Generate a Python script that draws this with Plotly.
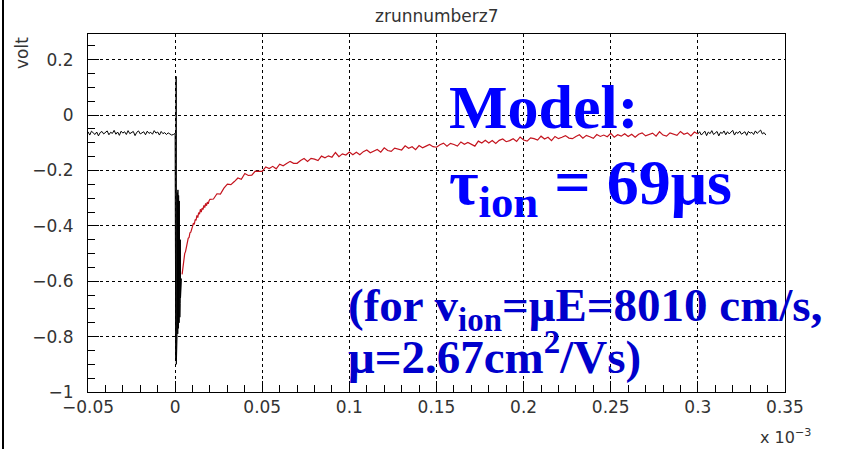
import numpy as np
import plotly.graph_objects as go

# Time axis in units of 1e-3 s, amplitude in volt.

# Baseline before the trigger (sampled every 0.001 from -0.050)
pre_t0, pre_dt = -0.050, 0.001
pre_v = [-0.060, -0.072, -0.058, -0.066, -0.070, -0.061, -0.075, -0.063, -0.059, -0.068,
         -0.064, -0.057, -0.071, -0.062, -0.066, -0.055, -0.069, -0.061, -0.073, -0.058,
         -0.065, -0.060, -0.070, -0.056, -0.067, -0.063, -0.059, -0.074, -0.062, -0.057,
         -0.068, -0.064, -0.060, -0.071, -0.058, -0.066, -0.062, -0.069, -0.056, -0.065,
         -0.061, -0.072, -0.059, -0.067, -0.063, -0.070, -0.064, -0.068, -0.072, -0.070,
         -0.066]

# Fast ringing right after the trigger (sampled every 0.0001 from 0)
ring_t0, ring_dt = 0.0, 0.0001
ring_v = [-0.066, -0.35, -0.60, -0.52, -0.88, -0.40, 0.14, -0.90, -0.30, -0.78,
          -0.26, -0.80, -0.28, -0.76, -0.30, -0.79, -0.27, -0.74, -0.32, -0.77,
          -0.29, -0.72, -0.34, -0.75, -0.31, -0.70, -0.36, -0.73, -0.40, -0.68,
          -0.45, -0.66, -0.52, -0.63, -0.56, -0.61, -0.59]

# Ion tail, early part (every 0.0005 from 0.004)
early_t0, early_dt = 0.004, 0.0005
early_v = [-0.575, -0.540, -0.525, -0.500, -0.492, -0.470, -0.465, -0.445, -0.442, -0.425,
           -0.423, -0.405, -0.402, -0.390, -0.395, -0.377, -0.380, -0.362, -0.370, -0.352,
           -0.358, -0.340, -0.350, -0.336, -0.341, -0.326, -0.334, -0.319, -0.327, -0.314,
           -0.320, -0.309]

# Ion tail, late part (every 0.002 from 0.020)
late_t0, late_dt = 0.020, 0.002
late_v = [-0.304, -0.303, -0.284, -0.285, -0.264, -0.249, -0.251, -0.240, -0.227, -0.232,
          -0.211, -0.218, -0.217, -0.202, -0.202, -0.203, -0.187, -0.193, -0.185, -0.194,
          -0.177, -0.183, -0.175, -0.167, -0.174, -0.174, -0.164, -0.157, -0.167, -0.156,
          -0.159, -0.164, -0.148, -0.154, -0.147, -0.152, -0.135, -0.150, -0.140, -0.144,
          -0.133, -0.143, -0.134, -0.143, -0.132, -0.126, -0.136, -0.131, -0.124, -0.134,
          -0.118, -0.128, -0.131, -0.119, -0.122, -0.126, -0.111, -0.120, -0.114, -0.125,
          -0.110, -0.118, -0.112, -0.106, -0.114, -0.116, -0.107, -0.101, -0.112, -0.102,
          -0.106, -0.112, -0.097, -0.105, -0.099, -0.105, -0.112, -0.094, -0.101, -0.091,
          -0.101, -0.092, -0.102, -0.091, -0.086, -0.096, -0.092, -0.085, -0.095, -0.079,
          -0.090, -0.094, -0.082, -0.085, -0.090, -0.076, -0.086, -0.080, -0.092, -0.077,
          -0.085, -0.080, -0.074, -0.083, -0.085, -0.077, -0.071, -0.083, -0.073, -0.078,
          -0.084, -0.070, -0.077, -0.072, -0.078, -0.066, -0.080, -0.071, -0.076, -0.067,
          -0.077, -0.069, -0.080, -0.069, -0.064, -0.075, -0.071, -0.065, -0.076, -0.060,
          -0.072, -0.076, -0.064, -0.068, -0.073, -0.059, -0.069, -0.064, -0.075, -0.061,
          -0.068]

# Baseline after the tail (every 0.001 from 0.300)
tail_t0, tail_dt = 0.300, 0.001
tail_v = [-0.068, -0.060, -0.072, -0.063, -0.058, -0.074, -0.061, -0.067, -0.056, -0.070,
          -0.064, -0.059, -0.075, -0.062, -0.066, -0.057, -0.071, -0.060, -0.068, -0.063,
          -0.055, -0.072, -0.061, -0.066, -0.058, -0.069, -0.064, -0.060, -0.073, -0.059,
          -0.065, -0.062, -0.070, -0.057, -0.066, -0.061, -0.054, -0.068, -0.063, -0.072]


def sample_times(t0, dt, values):
    return t0 + dt * np.arange(len(values))


black_t = np.concatenate([sample_times(pre_t0, pre_dt, pre_v),
                          sample_times(ring_t0, ring_dt, ring_v)])
black_v = list(pre_v) + list(ring_v)
red_t = np.concatenate([sample_times(early_t0, early_dt, early_v),
                        sample_times(late_t0, late_dt, late_v)])
red_v = list(early_v) + list(late_v)
tail_t = sample_times(tail_t0, tail_dt, tail_v)

fig = go.Figure()
fig.add_trace(go.Scatter(x=black_t, y=black_v, mode="lines",
                         line=dict(color="black", width=1), hoverinfo="skip"))
fig.add_trace(go.Scatter(x=tail_t, y=tail_v, mode="lines",
                         line=dict(color="black", width=1), hoverinfo="skip"))
fig.add_trace(go.Scatter(x=red_t, y=red_v, mode="lines",
                         line=dict(color="#c4141e", width=1.2), hoverinfo="skip"))

L, R, T, B = 88, 785, 34, 392
W, H = 841, 449
pw, ph = R - L, B - T


def px(x):
    return (x - L) / pw


def py(y):
    return (B - y) / ph


sans = "DejaVu Sans, Verdana, sans-serif"
tick_font = dict(family=sans, size=17, color="#333")
axis_common = dict(showline=True, linecolor="black", linewidth=1, mirror=True,
                   ticks="inside", ticklen=11, tickwidth=1, tickcolor="black",
                   showgrid=True, gridcolor="black", gridwidth=1, griddash="dot",
                   zeroline=False, tickfont=tick_font)

fig.update_xaxes(range=[-0.05, 0.35], tick0=-0.05, dtick=0.05,
                 minor=dict(ticks="inside", ticklen=7, dtick=0.01, tickcolor="black",
                            showgrid=False),
                 **axis_common)
fig.update_yaxes(range=[-1, 0.293], tick0=-1, dtick=0.2, ticklabelstandoff=10,
                 minor=dict(ticks="inside", ticklen=7, dtick=0.05, tickcolor="black",
                            showgrid=False),
                 **axis_common)

serif = "Liberation Serif, Times New Roman, serif"
annotations = [
    dict(text="zrunnumberz7", x=0.5, y=py(16), xanchor="center", yanchor="middle",
         font=dict(family=sans, size=17, color="#333")),
    dict(text="volt", x=px(22), y=py(35), xanchor="center", yanchor="top", textangle=-90,
         font=dict(family=sans, size=17, color="#333")),
    dict(text="x 10<sup>−3</sup>", x=px(758), y=py(436), xanchor="left", yanchor="middle",
         font=dict(family=sans, size=16, color="#333")),
    dict(text="<b>Model:</b>", x=px(447), y=py(107), xanchor="left", yanchor="middle",
         font=dict(family=serif, size=62, color="#0000ff")),
    dict(text="<b>τ<sub>ion</sub> = 69μs</b>", x=px(447), y=py(187), xanchor="left",
         yanchor="middle", font=dict(family=serif, size=64, color="#0000ff")),
    dict(text="<b>(for v<sub>ion</sub>=μE=8010 cm/s,</b>", x=px(346), y=py(308),
         xanchor="left", yanchor="middle", font=dict(family=serif, size=47, color="#0000cc")),
    dict(text="<b>μ=2.67cm<sup>2</sup>/Vs)</b>", x=px(346), y=py(353),
         xanchor="left", yanchor="middle", font=dict(family=serif, size=47, color="#0000cc")),
]
for a in annotations:
    a.update(xref="paper", yref="paper", showarrow=False)

fig.update_layout(
    width=W, height=H,
    margin=dict(l=L, r=W - R, t=T, b=H - B, pad=0),
    paper_bgcolor="white", plot_bgcolor="white",
    showlegend=False,
    annotations=annotations,
    shapes=[dict(type="line", xref="paper", yref="paper",
                 x0=px(3), x1=px(3), y0=py(H), y1=py(0),
                 line=dict(color="black", width=2))],
)

fig.write_html("out.html")
